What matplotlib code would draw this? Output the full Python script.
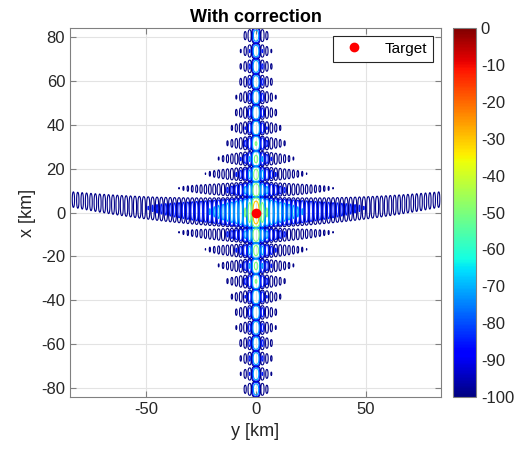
import numpy as np
import matplotlib
matplotlib.use("Agg")
import matplotlib.pyplot as plt
from matplotlib import cm, colors

plt.rcParams["font.family"] = ["Liberation Sans", "DejaVu Sans"]
plt.rcParams["axes.unicode_minus"] = False

# point-target response parameters
RES_X = 7.0          # null spacing along x (vertical axis) [km]
RES_Y = 2.0          # null spacing along y (horizontal axis) [km]
CURV = 0.00085       # residual migration: x shift per y^2 [1/km]
PEAK_DB = -15.3      # level of the main lobe
SCALE_X = 1.47       # sidelobe stretch along x
SCALE_Y = 1.84       # sidelobe stretch along y
FLOOR_DB = -110.0

levels = [-99, -85, -72, -50, -30]
cbar_ticks = list(range(-100, 1, 10))
x_ticks = [-50, 0, 50]
y_ticks = [-80, -60, -40, -20, 0, 20, 40, 60, 80]
target = (0.0, 0.0)

yy = np.arange(-86, 86.01, 0.08)
xx = np.arange(-86, 86.01, 0.15)
Y, X = np.meshgrid(yy, xx)
sy = np.abs(np.sinc(Y / RES_Y)) + 1e-12
sx = np.abs(np.sinc((X - CURV * Y**2) / RES_X)) + 1e-12
Z = PEAK_DB + SCALE_Y * 20 * np.log10(sy) + SCALE_X * 20 * np.log10(sx)
Z = np.clip(Z, FLOOR_DB, 0)

fig = plt.figure(figsize=(5.23, 4.57), dpi=100)
ax = fig.add_axes([0.134, 0.131, 0.709, 0.808])
cax = fig.add_axes([0.866, 0.131, 0.044, 0.808])

norm = colors.Normalize(vmin=-100, vmax=0)
ax.contour(Y, X, Z, levels=levels, cmap="jet", norm=norm, linewidths=0.8, zorder=2)
ax.plot(*target, "o", color="red", ms=6, label="Target", zorder=5, ls="none")

ax.set_xlim(-84.5, 84)
ax.set_ylim(-84, 84)
ax.set_xticks(x_ticks)
ax.set_yticks(y_ticks)
ax.grid(True, color="#e3e3e3", lw=0.8, zorder=0)
ax.set_axisbelow(True)
ax.tick_params(direction="in", length=4, colors="#808080", labelcolor="#262626",
               labelsize=12, top=True, right=True)
for sp in ax.spines.values():
    sp.set_color("#808080")
ax.set_xlabel("y [km]", fontsize=13, color="#262626")
ax.set_ylabel("x [km]", fontsize=13, color="#262626")
ax.set_title("With correction", fontsize=13, fontweight="bold", pad=4)
leg = ax.legend(loc="upper right", fontsize=11, fancybox=False, framealpha=1,
                edgecolor="#262626", handletextpad=1.0, borderpad=0.4)
leg.get_frame().set_linewidth(0.8)

cb = fig.colorbar(cm.ScalarMappable(norm=norm, cmap="jet"), cax=cax, ticks=cbar_ticks)
cb.ax.tick_params(labelsize=12, length=0, colors="#262626")
cb.outline.set_edgecolor("#808080")

fig.savefig("out.png", dpi=100, facecolor="white")
